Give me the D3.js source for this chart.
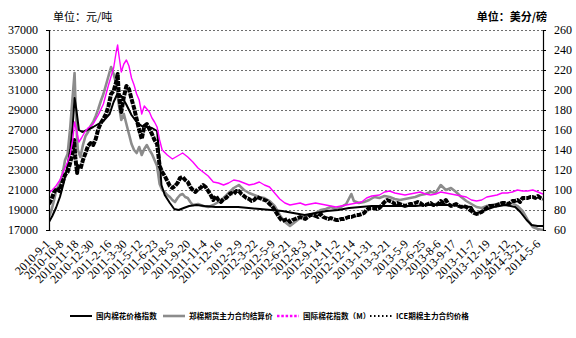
<!DOCTYPE html>
<html>
<head>
<meta charset="utf-8">
<script src="https://cdn.jsdelivr.net/npm/d3@7/dist/d3.min.js"></script>
<style>
  body { margin: 0; background: #fff; }
  svg { display: block; }
</style>
</head>
<body>
<svg id="chart" width="576" height="338"></svg>
<script>
// Axis ticks
const leftTicks = [17000, 19000, 21000, 23000, 25000, 27000, 29000, 31000, 33000, 35000, 37000];
const rightTicks = [60, 80, 100, 120, 140, 160, 180, 200, 220, 240, 260];
const dateLabels = ["2010-9-1","2010-10-8","2010-11-18","2010-12-30","2011-2-16","2011-3-30","2011-5-12",
  "2011-6-23","2011-8-5","2011-9-20","2011-11-4","2011-12-16","2012-2-9","2012-3-22","2012-5-9",
  "2012-6-21","2012-8-3","2012-9-14","2012-11-2","2012-12-14","2013-1-31","2013-3-21","2013-5-9",
  "2013-6-25","2013-8-6","2013-9-17","2013-11-7","2013-12-19","2014-2-12","2014-3-21","2014-5-6"];

const seriesNames = ["国内棉花价格指数", "郑棉期货主力合约结算价", "国际棉花指数（M）", "ICE期棉主力合约价格"];

// 国内棉花价格指数, 元/吨
const cnIndex = [["2010-09-01",17800],["2010-09-10",18400],["2010-09-20",19200],["2010-10-01",20300],["2010-10-12",21800],
["2010-10-22",23500],["2010-10-29",25000],["2010-11-05",27500],["2010-11-10",30200],["2010-11-15",29000],["2010-11-22",27000],
["2010-12-01",26800],["2010-12-15",27000],["2010-12-31",27300],["2011-01-14",27600],["2011-01-28",27900],["2011-02-14",28600],
["2011-02-25",29800],["2011-03-07",30600],["2011-03-18",30400],["2011-03-31",29600],["2011-04-15",28500],["2011-04-29",27800],
["2011-05-13",27400],["2011-05-27",27300],["2011-06-10",27200],["2011-06-24",26900],["2011-06-30",24500],["2011-07-06",21500],
["2011-07-15",20500],["2011-07-29",19700],["2011-08-10",19100],["2011-08-22",19000],["2011-09-05",19200],["2011-09-20",19400],
["2011-10-10",19500],["2011-11-01",19400],["2011-12-01",19300],["2012-01-04",19300],["2012-02-01",19300],["2012-03-01",19200],
["2012-04-01",19100],["2012-05-01",19000],["2012-06-01",18900],["2012-07-01",18700],["2012-08-01",18500],["2012-09-01",18700],
["2012-10-01",18900],["2012-11-01",19000],["2012-12-01",19200],["2013-01-01",19300],["2013-02-01",19400],["2013-03-01",19400],
["2013-04-01",19400],["2013-05-01",19400],["2013-06-01",19400],["2013-07-01",19500],["2013-08-01",19500],["2013-09-01",19500],
["2013-10-01",19400],["2013-11-01",19300],["2013-11-12",18600],["2013-12-01",18900],["2014-01-01",19300],["2014-02-01",19500],
["2014-03-01",19300],["2014-03-15",18800],["2014-04-01",18000],["2014-04-15",17500],["2014-05-01",17400],["2014-05-16",17400]];

// 郑棉期货主力合约, 元/吨
const zceFutures = [["2010-09-01",18300],["2010-09-08",19000],["2010-09-15",20000],["2010-09-21",21000],["2010-09-30",21600],
["2010-10-08",22600],["2010-10-15",24000],["2010-10-22",24600],["2010-10-29",27200],["2010-11-04",30000],["2010-11-10",32700],
["2010-11-12",30500],["2010-11-17",26000],["2010-11-19",25000],["2010-11-26",24300],["2010-12-03",25500],["2010-12-10",26400],
["2010-12-17",26800],["2010-12-24",27400],["2010-12-31",27800],["2011-01-07",28400],["2011-01-14",29100],["2011-01-21",29900],
["2011-01-28",30600],["2011-02-11",32400],["2011-02-18",33300],["2011-02-25",32600],["2011-03-04",31600],["2011-03-11",29600],
["2011-03-18",28000],["2011-03-25",28600],["2011-04-01",27600],["2011-04-08",26600],["2011-04-15",25600],["2011-04-22",25000],
["2011-04-29",24700],["2011-05-06",25300],["2011-05-13",24500],["2011-05-20",25100],["2011-05-27",25500],["2011-06-03",25000],
["2011-06-10",24600],["2011-06-17",24000],["2011-06-24",23400],["2011-07-01",21600],["2011-07-08",21000],["2011-07-15",20800],
["2011-07-22",20500],["2011-07-29",20300],["2011-08-05",20000],["2011-08-12",19800],["2011-08-19",20200],["2011-08-26",20500],
["2011-09-02",20600],["2011-09-09",20300],["2011-09-16",20200],["2011-09-23",19800],["2011-09-30",19500],["2011-10-14",19600],
["2011-10-28",19400],["2011-11-11",19300],["2011-11-25",19500],["2011-12-09",19800],["2011-12-23",20200],["2012-01-06",20700],
["2012-01-20",21200],["2012-02-03",21500],["2012-02-17",21000],["2012-03-02",20700],["2012-03-16",20500],["2012-03-30",20300],
["2012-04-13",20200],["2012-04-27",19900],["2012-05-11",19400],["2012-05-25",18500],["2012-06-08",17800],["2012-06-22",17400],
["2012-07-06",17800],["2012-07-20",18200],["2012-08-03",18300],["2012-08-17",18500],["2012-08-31",18700],["2012-09-14",19000],
["2012-09-28",19100],["2012-10-12",19300],["2012-10-26",19100],["2012-11-09",19300],["2012-11-23",19600],["2012-12-07",20600],
["2012-12-14",19900],["2012-12-28",19700],["2013-01-11",19800],["2013-01-25",20000],["2013-02-08",20300],["2013-02-22",20200],
["2013-03-08",20400],["2013-03-22",20300],["2013-04-05",20100],["2013-04-19",20000],["2013-05-03",20100],["2013-05-17",20200],
["2013-05-31",20300],["2013-06-14",20500],["2013-06-28",20600],["2013-07-12",20800],["2013-07-26",20700],["2013-08-09",21500],
["2013-08-23",21000],["2013-09-06",21200],["2013-09-20",20800],["2013-10-04",20300],["2013-10-18",19900],["2013-11-01",19600],
["2013-11-15",19300],["2013-11-29",19200],["2013-12-13",19400],["2013-12-27",19500],["2014-01-10",19600],["2014-01-24",19700],
["2014-02-07",19600],["2014-02-21",19700],["2014-03-07",19400],["2014-03-21",18900],["2014-04-04",18000],["2014-04-18",17300],
["2014-05-02",17100],["2014-05-16",17000]];

// 国际棉花指数（M）, 美分/磅
const intlIndex = [["2010-09-01",97],["2010-09-10",100],["2010-09-20",104],["2010-10-01",110],["2010-10-12",120],["2010-10-22",128],
["2010-10-29",136],["2010-11-05",150],["2010-11-10",168],["2010-11-15",160],["2010-11-22",148],["2010-11-29",152],["2010-12-08",158],
["2010-12-17",162],["2010-12-31",166],["2011-01-14",175],["2011-01-28",186],["2011-02-11",205],["2011-02-25",222],["2011-03-04",238],
["2011-03-08",245],["2011-03-11",236],["2011-03-18",218],["2011-03-25",226],["2011-04-01",230],["2011-04-08",224],["2011-04-15",212],
["2011-04-22",205],["2011-04-29",196],["2011-05-06",190],["2011-05-13",176],["2011-05-20",184],["2011-05-27",181],["2011-06-03",178],
["2011-06-10",172],["2011-06-17",168],["2011-06-24",163],["2011-07-01",150],["2011-07-08",140],["2011-07-22",135],["2011-08-05",131],
["2011-08-19",134],["2011-09-02",137],["2011-09-16",133],["2011-09-30",128],["2011-10-14",122],["2011-10-28",118],["2011-11-11",114],
["2011-11-25",108],["2011-12-09",107],["2011-12-23",105],["2012-01-06",107],["2012-01-20",110],["2012-02-03",109],["2012-02-17",107],
["2012-03-02",105],["2012-03-16",106],["2012-03-30",108],["2012-04-13",105],["2012-04-27",103],["2012-05-11",97],["2012-05-25",91],
["2012-06-08",87],["2012-06-22",85],["2012-07-06",86],["2012-07-20",87],["2012-08-03",85],["2012-08-17",86],["2012-08-31",87],
["2012-09-14",86],["2012-09-28",85],["2012-10-12",84],["2012-10-26",83],["2012-11-09",84],["2012-11-23",85],["2012-12-07",86],
["2012-12-21",87],["2013-01-04",88],["2013-01-18",92],["2013-02-01",94],["2013-02-22",95],["2013-03-08",98],["2013-03-22",99],
["2013-04-05",97],["2013-04-19",96],["2013-05-03",95],["2013-05-17",96],["2013-05-31",97],["2013-06-14",98],["2013-06-28",96],
["2013-07-12",95],["2013-07-26",96],["2013-08-09",98],["2013-08-23",97],["2013-09-06",96],["2013-09-20",95],["2013-10-04",94],
["2013-10-18",93],["2013-11-01",90],["2013-11-15",89],["2013-11-29",90],["2013-12-13",93],["2013-12-27",94],["2014-01-10",95],
["2014-01-24",97],["2014-02-07",97],["2014-02-21",98],["2014-03-07",100],["2014-03-21",99],["2014-04-04",99],["2014-04-18",100],
["2014-05-02",98],["2014-05-16",96]];

// ICE期棉主力合约, 美分/磅
const iceFutures = [["2010-09-01",86],["2010-09-08",91],["2010-09-15",98],["2010-09-22",102],["2010-09-29",99],["2010-10-08",108],
["2010-10-15",115],["2010-10-22",118],["2010-10-29",127],["2010-11-05",138],["2010-11-09",150],["2010-11-12",133],["2010-11-17",117],
["2010-11-19",124],["2010-11-26",121],["2010-12-03",130],["2010-12-10",137],["2010-12-17",144],["2010-12-24",147],["2010-12-31",145],
["2011-01-07",151],["2011-01-14",161],["2011-01-21",167],["2011-01-28",171],["2011-02-04",176],["2011-02-11",184],["2011-02-18",196],
["2011-02-25",199],["2011-03-04",208],["2011-03-08",216],["2011-03-11",196],["2011-03-18",178],["2011-03-25",193],["2011-04-01",204],
["2011-04-08",201],["2011-04-15",191],["2011-04-22",182],["2011-04-29",171],["2011-05-06",160],["2011-05-13",151],["2011-05-20",164],
["2011-05-27",166],["2011-06-03",161],["2011-06-10",156],["2011-06-17",150],["2011-06-24",146],["2011-07-01",124],["2011-07-08",118],
["2011-07-15",114],["2011-07-22",109],["2011-07-29",104],["2011-08-05",102],["2011-08-12",104],["2011-08-19",107],["2011-08-26",112],
["2011-09-02",113],["2011-09-09",110],["2011-09-16",108],["2011-09-23",103],["2011-09-30",100],["2011-10-07",98],["2011-10-14",101],
["2011-10-21",102],["2011-10-28",105],["2011-11-04",103],["2011-11-11",99],["2011-11-18",95],["2011-11-25",90],["2011-12-02",94],
["2011-12-09",90],["2011-12-16",88],["2011-12-23",91],["2011-12-30",92],["2012-01-06",95],["2012-01-13",97],["2012-01-20",96],
["2012-01-27",99],["2012-02-03",99],["2012-02-10",96],["2012-02-17",94],["2012-02-24",92],["2012-03-02",91],["2012-03-09",89],
["2012-03-16",90],["2012-03-23",93],["2012-03-30",92],["2012-04-06",91],["2012-04-13",90],["2012-04-20",89],["2012-04-27",86],
["2012-05-04",84],["2012-05-11",80],["2012-05-18",76],["2012-05-25",72],["2012-06-01",69],["2012-06-08",70],["2012-06-15",71],
["2012-06-22",68],["2012-06-29",70],["2012-07-06",71],["2012-07-13",72],["2012-07-20",73],["2012-07-27",72],["2012-08-03",71],
["2012-08-10",73],["2012-08-17",75],["2012-08-24",75],["2012-08-31",74],["2012-09-07",73],["2012-09-14",76],["2012-09-21",73],
["2012-09-28",72],["2012-10-05",71],["2012-10-12",72],["2012-10-19",71],["2012-10-26",70],["2012-11-02",70],["2012-11-09",71],
["2012-11-16",71],["2012-11-23",72],["2012-11-30",73],["2012-12-07",73],["2012-12-14",74],["2012-12-21",75],["2012-12-28",75],
["2013-01-04",76],["2013-01-11",77],["2013-01-18",80],["2013-01-25",82],["2013-02-01",82],["2013-02-08",82],["2013-02-15",81],
["2013-02-22",82],["2013-03-01",85],["2013-03-08",88],["2013-03-15",90],["2013-03-22",89],["2013-03-29",88],["2013-04-05",86],
["2013-04-12",87],["2013-04-19",86],["2013-04-26",85],["2013-05-03",84],["2013-05-10",85],["2013-05-17",86],["2013-05-24",86],
["2013-05-31",87],["2013-06-07",88],["2013-06-14",87],["2013-06-21",85],["2013-06-28",85],["2013-07-05",86],["2013-07-12",87],
["2013-07-19",85],["2013-07-26",85],["2013-08-02",86],["2013-08-09",89],["2013-08-16",87],["2013-08-23",90],["2013-08-30",86],
["2013-09-06",84],["2013-09-13",85],["2013-09-20",86],["2013-09-27",84],["2013-10-04",83],["2013-10-11",84],["2013-10-18",83],
["2013-10-25",81],["2013-11-01",79],["2013-11-08",77],["2013-11-15",76],["2013-11-22",77],["2013-11-29",78],["2013-12-06",80],
["2013-12-13",82],["2013-12-20",84],["2013-12-27",84],["2014-01-03",84],["2014-01-10",85],["2014-01-17",86],["2014-01-24",87],
["2014-01-31",87],["2014-02-07",86],["2014-02-14",87],["2014-02-21",89],["2014-02-28",89],["2014-03-07",90],["2014-03-14",88],
["2014-03-21",92],["2014-03-28",92],["2014-04-04",92],["2014-04-11",93],["2014-04-18",93],["2014-04-25",92],["2014-05-02",94],
["2014-05-09",92],["2014-05-16",91]];

const svg = d3.select("#chart");
const plot = { left: 49, right: 543, top: 30, bottom: 230 };

const parseISO = d3.timeParse("%Y-%m-%d");
const parseLabel = d3.timeParse("%Y-%m-%d");

const x = d3.scaleTime()
  .domain([parseISO("2010-09-01"), parseISO("2014-05-16")])
  .range([plot.left, plot.right]);
const yL = d3.scaleLinear().domain([17000, 37000]).range([plot.bottom, plot.top]);
const yR = d3.scaleLinear().domain([60, 260]).range([plot.bottom, plot.top]);

// horizontal grid
svg.append("g").selectAll("line").data(leftTicks).join("line")
  .attr("x1", plot.left).attr("x2", plot.right)
  .attr("y1", d => Math.round(yL(d)) + 0.5).attr("y2", d => Math.round(yL(d)) + 0.5)
  .attr("stroke", "#6e6e6e").attr("stroke-width", 1).attr("stroke-dasharray", "2,2");

// clip for series
svg.append("clipPath").attr("id", "plotClip").append("rect")
  .attr("x", plot.left).attr("y", plot.top - 2)
  .attr("width", plot.right - plot.left).attr("height", plot.bottom - plot.top + 3);

const lineL = d3.line().x(d => x(parseISO(d[0]))).y(d => yL(d[1]));
const lineR = d3.line().x(d => x(parseISO(d[0]))).y(d => yR(d[1]));

const series = svg.append("g").attr("clip-path", "url(#plotClip)");
series.append("path").datum(zceFutures).attr("d", lineL)
  .attr("fill", "none").attr("stroke", "#8c8c8c").attr("stroke-width", 2.6).attr("stroke-linejoin", "round");
series.append("path").datum(cnIndex).attr("d", lineL)
  .attr("fill", "none").attr("stroke", "#000").attr("stroke-width", 2).attr("stroke-linejoin", "round");
series.append("path").datum(iceFutures).attr("d", lineR)
  .attr("fill", "none").attr("stroke", "#000").attr("stroke-width", 4).attr("stroke-linejoin", "round")
  .attr("stroke-dasharray", "5,1");
series.append("path").datum(intlIndex).attr("d", lineR)
  .attr("fill", "none").attr("stroke", "#ff00ff").attr("stroke-width", 1.4).attr("stroke-linejoin", "round");

// axes
const numFont = "'Liberation Serif', 'Times New Roman', serif";
const axL = svg.append("g").attr("transform", `translate(${plot.left},0)`)
  .call(d3.axisLeft(yL).tickValues(leftTicks).tickFormat(d3.format("d")).tickSize(3).tickPadding(8));
const axR = svg.append("g").attr("transform", `translate(${plot.right},0)`)
  .call(d3.axisRight(yR).tickValues(rightTicks).tickFormat(d3.format("d")).tickSize(3).tickPadding(8));
[axL, axR].forEach(a => {
  a.selectAll("path.domain").attr("stroke", "#000").attr("stroke-width", 1.2);
  a.selectAll(".tick line").attr("stroke", "#000");
  a.selectAll("text").attr("font-family", numFont).attr("font-size", 12).attr("fill", "#000");
});

const labelDates = dateLabels.map(parseLabel);
const axB = svg.append("g").attr("transform", `translate(0,${plot.bottom})`)
  .call(d3.axisBottom(x).tickValues(labelDates).tickFormat((d, i) => dateLabels[i]).tickSize(0));
axB.select("path.domain").remove();
axB.selectAll("text")
  .attr("font-family", numFont).attr("font-size", 12).attr("fill", "#000")
  .attr("text-anchor", "end")
  .attr("dy", "0.35em").attr("dx", "-0.2em")
  .attr("transform", "translate(0,10) rotate(-45)")
  .attr("y", 0);

// unit titles
svg.append("text").attr("x", 53).attr("y", 21)
  .attr("font-family", "'Noto Sans CJK SC', sans-serif").attr("font-size", 11).attr("fill", "#000")
  .text("单位：元/吨");
svg.append("text").attr("x", 547).attr("y", 21).attr("text-anchor", "end")
  .attr("font-family", "'Noto Sans CJK SC', sans-serif").attr("font-size", 11).attr("font-weight", "bold").attr("fill", "#000")
  .text("单位：美分/磅");

// legend
const legendItems = [
  { name: seriesNames[0], x: 70, stroke: "#000", width: 2, dash: null },
  { name: seriesNames[1], x: 163, stroke: "#8c8c8c", width: 2.6, dash: null },
  { name: seriesNames[2], x: 277, stroke: "#ff00ff", width: 2.4, dash: "2.5,1.8" },
  { name: seriesNames[3], x: 370, stroke: "#000", width: 2, dash: "1.5,2.5" }
];
const lg = svg.append("g").attr("transform", "translate(0,316)");
legendItems.forEach(it => {
  lg.append("line").attr("x1", it.x).attr("x2", it.x + 22).attr("y1", 0).attr("y2", 0)
    .attr("stroke", it.stroke).attr("stroke-width", it.width)
    .attr("stroke-dasharray", it.dash);
  lg.append("text").attr("x", it.x + 26).attr("y", 3)
    .attr("font-family", "'Noto Sans CJK SC', sans-serif").attr("font-size", 7.6).attr("font-weight", "bold")
    .attr("fill", "#000").text(it.name);
});
</script>
</body>
</html>
